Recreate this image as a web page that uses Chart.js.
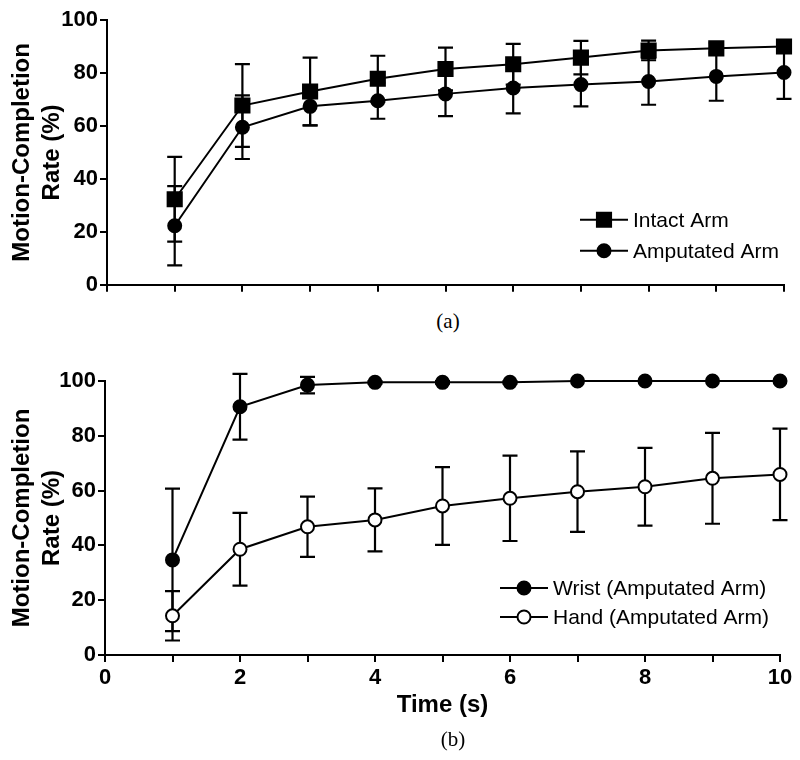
<!DOCTYPE html>
<html>
<head>
<meta charset="utf-8">
<script src="https://cdn.jsdelivr.net/npm/chart.js@4/dist/chart.umd.min.js"></script>
<style>
  html, body { margin: 0; padding: 0; background: #fff; }
  #wrap { position: relative; width: 800px; height: 760px; background: #fff; }
  canvas { position: absolute; left: 0; }
  .cap { position: absolute; font-family: "Liberation Serif", "Times New Roman", serif; font-size: 21px; color: #000; width: 60px; text-align: center; }
</style>
</head>
<body>
<div id="wrap">
  <canvas id="c1" width="800" height="300" style="top:0px"></canvas>
  <div class="cap" style="left:418px; top:309px;">(a)</div>
  <canvas id="c2" width="800" height="370" style="top:360px"></canvas>
  <div class="cap" style="left:423px; top:727px;">(b)</div>
</div>
<script>
// ---- Data ----
const times = [1, 2, 3, 4, 5, 6, 7, 8, 9, 10];
const yTicks = [0, 20, 40, 60, 80, 100];
const xTickLabelsB = [0, 2, 4, 6, 8, 10];

const intactMean    = [32.3, 67.7, 73.0, 77.8, 81.5, 83.3, 85.8, 88.5, 89.3, 90.0];
const intactErr     = [16.0, 15.6, 12.8, 8.7, 8.1, 7.7, 6.3, 3.7, 2.0, 2.0];
const amputatedMean = [22.3, 59.5, 67.4, 69.5, 72.1, 74.3, 75.6, 76.8, 78.7, 80.2];
const amputatedErr  = [15.0, 12.0, 7.2, 6.8, 8.4, 9.6, 8.2, 8.8, 9.2, 10.0];

const wristMean = [34.7, 90.6, 98.5, 99.5, 99.5, 99.5, 100, 100, 100, 100];
const wristErr  = [26.0, 12.0, 3.0, 0.5, 0.5, 0.5, 0, 0, 0, 0];
const handMean  = [14.3, 38.6, 46.8, 49.3, 54.4, 57.2, 59.6, 61.4, 64.5, 65.9];
const handErr   = [9.0, 13.3, 11.0, 11.5, 14.2, 15.6, 14.7, 14.2, 16.6, 16.7];

const SANS = '"Liberation Sans", Arial, sans-serif';

function pts(xs, ys) { return xs.map((x, i) => ({ x: x, y: ys[i] })); }

function drawMarker(ctx, style, x, y, r, fill) {
  ctx.save();
  ctx.lineWidth = 2;
  ctx.strokeStyle = '#000';
  ctx.fillStyle = fill;
  ctx.beginPath();
  if (style === 'rect') {
    const s = r * Math.SQRT1_2;
    ctx.rect(x - s, y - s, 2 * s, 2 * s);
  } else {
    ctx.arc(x, y, r, 0, Math.PI * 2);
  }
  ctx.fill();
  ctx.stroke();
  ctx.restore();
}

// Error bar plugin (uses chart scales)
const errorBars = {
  id: 'errorBars',
  beforeDatasetsDraw(chart) {
    const ctx = chart.ctx;
    const xs = chart.scales.x, ys = chart.scales.y;
    ctx.save();
    ctx.strokeStyle = '#000';
    ctx.lineWidth = 2.2;
    chart.data.datasets.forEach(ds => {
      if (!ds.err) return;
      ds.data.forEach((p, i) => {
        const e = ds.err[i];
        if (!e) return;
        const px = xs.getPixelForValue(p.x);
        const yt = ys.getPixelForValue(p.y + e);
        const yb = ys.getPixelForValue(p.y - e);
        const cw = 7.5;
        ctx.beginPath();
        ctx.moveTo(px, yt); ctx.lineTo(px, yb);
        ctx.moveTo(px - cw, yt); ctx.lineTo(px + cw, yt);
        ctx.moveTo(px - cw, yb); ctx.lineTo(px + cw, yb);
        ctx.stroke();
      });
    });
    ctx.restore();
  }
};

// Legend plugin drawn inside the chart area
const innerLegend = {
  id: 'innerLegend',
  afterDraw(chart, args, opts) {
    const ctx = chart.ctx;
    const a = chart.chartArea;
    const lx = a.right - opts.fromRight;
    ctx.save();
    chart.data.datasets.forEach((ds, i) => {
      const y = a.bottom - opts.rows[i];
      ctx.strokeStyle = '#000';
      ctx.lineWidth = 2;
      ctx.beginPath();
      ctx.moveTo(lx, y); ctx.lineTo(lx + 48, y);
      ctx.stroke();
      drawMarker(ctx, ds.pointStyle, lx + 24, y, ds.pointRadius, ds.pointBackgroundColor);
      ctx.fillStyle = '#000';
      ctx.font = '21px ' + SANS;
      ctx.textBaseline = 'middle';
      ctx.textAlign = 'left';
      ctx.fillText(ds.label, lx + 53, y + 1);
    });
    ctx.restore();
  }
};

function makeDataset(label, xs, ys, err, style, r, fill) {
  return {
    label: label,
    data: pts(xs, ys),
    err: err,
    borderColor: '#000',
    borderWidth: 2,
    pointStyle: style,
    pointRadius: r,
    pointHoverRadius: r,
    pointBackgroundColor: fill,
    pointBorderColor: '#000',
    pointBorderWidth: 2,
    tension: 0,
    clip: false
  };
}

function makeOptions(cfg) {
  return {
    responsive: false,
    animation: false,
    devicePixelRatio: 1,
    layout: { padding: cfg.padding },
    plugins: {
      legend: { display: false },
      tooltip: { enabled: false },
      innerLegend: cfg.legend
    },
    scales: {
      x: {
        type: 'linear',
        min: 0, max: 10,
        afterFit(s) { s.height = cfg.xHeight; },
        border: { display: true, color: '#000', width: 2 },
        grid: { display: true, drawOnChartArea: false, drawTicks: true, tickLength: 7, color: '#000', lineWidth: 2 },
        ticks: {
          stepSize: 1, autoSkip: false, maxRotation: 0, padding: 3,
          color: '#000',
          font: { family: SANS, size: 22, weight: 'bold' },
          callback: cfg.xCallback
        },
        title: cfg.xTitle
      },
      y: {
        min: 0, max: 100,
        afterFit(s) { s.width = cfg.yWidth; },
        afterBuildTicks(s) { s.ticks = yTicks.map(v => ({ value: v })); },
        border: { display: true, color: '#000', width: 2 },
        grid: { display: true, drawOnChartArea: false, drawTicks: true, tickLength: 7, color: '#000', lineWidth: 2 },
        ticks: {
          padding: 2, color: '#000',
          font: { family: SANS, size: 22, weight: 'bold' }
        },
        title: {
          display: true,
          text: ['Motion-Completion', 'Rate (%)'],
          color: '#000',
          font: { family: SANS, size: 24, weight: 'bold', lineHeight: 1.25 },
          padding: { top: 7, bottom: 0 }
        }
      }
    }
  };
}

new Chart(document.getElementById('c1'), {
  type: 'line',
  data: {
    datasets: [
      makeDataset('Intact Arm', times, intactMean, intactErr, 'rect', 10, '#000'),
      makeDataset('Amputated Arm', times, amputatedMean, amputatedErr, 'circle', 6.5, '#000')
    ]
  },
  options: makeOptions({
    padding: { top: 20, right: 16, left: 0, bottom: 0 },
    xHeight: 14,
    yWidth: 107,
    xCallback: () => '',
    xTitle: { display: false },
    legend: { fromRight: 204, rows: [65, 34] }
  }),
  plugins: [errorBars, innerLegend]
});

new Chart(document.getElementById('c2'), {
  type: 'line',
  data: {
    datasets: [
      makeDataset('Wrist (Amputated Arm)', times, wristMean, wristErr, 'circle', 6.5, '#000'),
      makeDataset('Hand (Amputated Arm)', times, handMean, handErr, 'circle', 6.5, '#fff')
    ]
  },
  options: makeOptions({
    padding: { top: 21, right: 20, left: 0, bottom: 0 },
    xHeight: 75,
    yWidth: 105,
    xCallback: (v) => (xTickLabelsB.includes(v) ? String(v) : ''),
    xTitle: {
      display: true,
      text: 'Time (s)',
      color: '#000',
      font: { family: SANS, size: 24, weight: 'bold', lineHeight: 1.2 },
      padding: { top: 0, bottom: 10 }
    },
    legend: { fromRight: 280, rows: [67, 38] }
  }),
  plugins: [errorBars, innerLegend]
});
</script>
</body>
</html>
